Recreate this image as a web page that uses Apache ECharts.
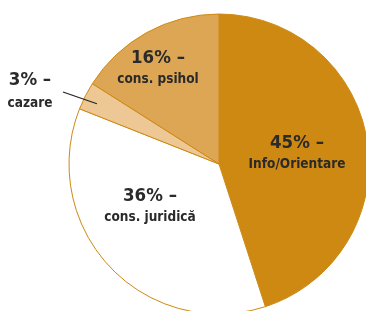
<!DOCTYPE html>
<html>
<head>
<meta charset="utf-8">
<script src="https://cdn.jsdelivr.net/npm/echarts@6/dist/echarts.min.js"></script>
<style>
  html, body { margin: 0; padding: 0; background: #fff; }
  #chart { width: 366px; height: 311px; }
</style>
</head>
<body>
<div id="chart"></div>
<script>
const categories = ['Info/Orientare', 'cons. juridică', 'cazare', 'cons. psihol'];
const shares = [45, 36, 3, 16];
const sliceColors = ['#ce8912', '#ffffff', '#eec894', '#dca655'];

// label centres, hand placed to match the original
const labelSpots = [
  { x: 297, y: 153 },
  { x: 150, y: 206 },
  { x: 30, y: 91 },
  { x: 158, y: 68 },
];

const center = [219, 164];
const radius = 150;
const chart = echarts.init(document.getElementById('chart'));
const fontFamily = '"Liberation Sans Narrow", "DejaVu Sans Condensed", "Roboto", sans-serif';

// mid angle of a slice (degrees clockwise from 12 o'clock)
function midAngle(index) {
  const total = shares.reduce((a, b) => a + b, 0);
  const before = shares.slice(0, index).reduce((a, b) => a + b, 0);
  return ((before + shares[index] / 2) / total) * 360;
}

// leader line for the small "cazare" slice, starting inside the slice
const cazareIdx = categories.indexOf('cazare');
const cazareAngle = (midAngle(cazareIdx) * Math.PI) / 180;
const leaderStart = [
  center[0] + Math.sin(cazareAngle) * (radius - 13),
  center[1] - Math.cos(cazareAngle) * (radius - 13) + 2,
];
const leaderEnd = [labelSpots[cazareIdx].x + 33, labelSpots[cazareIdx].y + 1];

chart.setOption({
  animation: false,
  backgroundColor: '#fff',
  graphic: [
    {
      type: 'line',
      z: 100,
      shape: { x1: leaderStart[0], y1: leaderStart[1], x2: leaderEnd[0], y2: leaderEnd[1] },
      style: { stroke: '#222', lineWidth: 1.2 },
    },
  ],
  series: [
    {
      type: 'pie',
      center,
      radius,
      startAngle: 90,
      clockwise: true,
      itemStyle: { borderColor: '#ce8912', borderWidth: 1 },
      label: {
        show: true,
        position: 'inside',
        color: '#2a2a2a',
        fontFamily,
        formatter: ({ name, value }) => `{pct|${value}% –}\n{name|${name}}`,
        rich: {
          pct: { fontSize: 18.5, fontWeight: 'bold', fontFamily, color: '#2a2a2a', lineHeight: 23, align: 'center' },
          name: { fontSize: 13.5, fontWeight: 'bold', fontFamily, color: '#2a2a2a', lineHeight: 20, align: 'center' },
        },
      },
      labelLine: { show: false },
      labelLayout: (params) => {
        const spot = labelSpots[params.dataIndex];
        return { x: spot.x, y: spot.y, align: 'center', verticalAlign: 'middle' };
      },
      data: categories.map((name, i) => {
        const item = { name, value: shares[i], itemStyle: { color: sliceColors[i] } };
        if (name === 'cazare') {
          item.label = { rich: { pct: { lineHeight: 25 }, name: { lineHeight: 22 } } };
        }
        return item;
      }),
    },
  ],
});
</script>
</body>
</html>
